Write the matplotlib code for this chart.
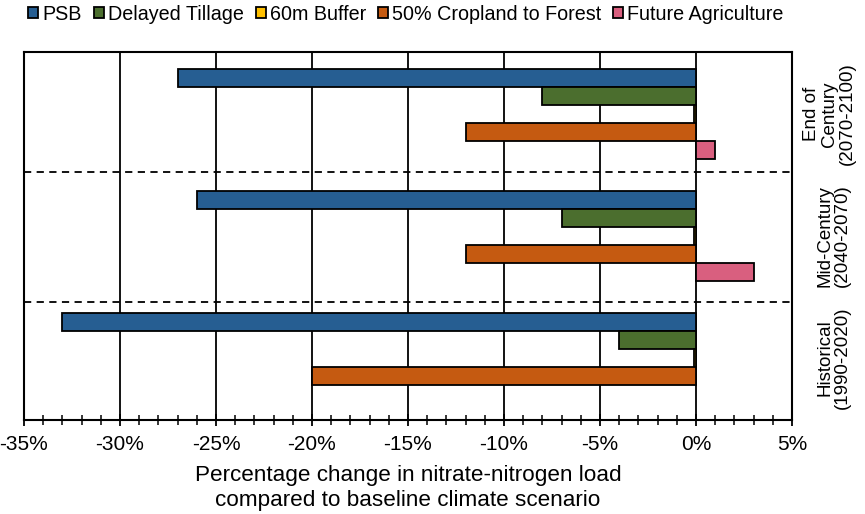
import numpy as np
import matplotlib.pyplot as plt
from matplotlib.ticker import MultipleLocator, FuncFormatter
from matplotlib.transforms import blended_transform_factory

plt.rcParams['font.family'] = ['Liberation Sans', 'DejaVu Sans']
plt.rcParams['axes.unicode_minus'] = False

# Data (percent change vs baseline climate scenario)
periods = ["End of\nCentury\n(2070-2100)", "Mid-Century\n(2040-2070)", "Historical\n(1990-2020)"]
scenarios = ["PSB", "Delayed Tillage", "60m Buffer", "50% Cropland to Forest", "Future Agriculture"]
psb = [-27, -26, -33]
delayed_tillage = [-8, -7, -4]
buffer_60m = [-0.1, -0.1, -0.1]
cropland_forest = [-12, -12, -20]
future_ag = [1, 3, np.nan]
colors = ["#265e92", "#4b6e2e", "#ffc000", "#c55a11", "#d95f7f"]

series = [psb, delayed_tillage, buffer_60m, cropland_forest, future_ag]

fig = plt.figure(figsize=(8.65, 5.14), dpi=100)
ax = fig.add_axes([24 / 865, 94 / 514, 768 / 865, 368 / 514])

group_gap = 6.78
first = 1.44
for j, (name, vals, col) in enumerate(zip(scenarios, series, colors)):
    ys = [first + i * group_gap + j for i in range(len(periods))]
    ax.barh(ys, vals, height=1.0, color=col, edgecolor='black', linewidth=1.3,
            label=name, zorder=3)

# group dividers
for yd in (6.67, 13.89):
    ax.axhline(yd, color='black', linestyle=(0, (4, 3)), linewidth=1.3, zorder=2)

ax.set_ylim(20.44, 0)
ax.set_xlim(-35, 5)
ax.set_yticks([])

ax.xaxis.set_major_locator(MultipleLocator(5))
ax.xaxis.set_minor_locator(MultipleLocator(1))
ax.xaxis.set_major_formatter(FuncFormatter(lambda v, p: f"{v:.0f}%"))
ax.tick_params(axis='x', which='major', direction='inout', length=9, width=1.3,
               labelsize=15, pad=6)
ax.tick_params(axis='x', which='minor', direction='inout', length=7, width=1.1)
ax.grid(axis='x', which='major', color='black', linewidth=1.3, zorder=1)
ax.set_axisbelow(True)
for sp in ax.spines.values():
    sp.set_linewidth(1.5)

ax.set_xlabel("Percentage change in nitrate-nitrogen load\ncompared to baseline climate scenario",
              fontsize=16.2, labelpad=8, linespacing=1.3)

trans = blended_transform_factory(ax.transAxes, ax.transData)
label_x = [1.049, 1.054, 1.054]
for i, (lab, lx) in enumerate(zip(periods, label_x)):
    ax.text(lx, first + i * group_gap + 2, lab, transform=trans, rotation=90,
            ha='center', va='center', fontsize=13.5, linespacing=1.05)

fig.legend(loc='center', bbox_to_anchor=(406 / 865, 1 - 14 / 514), ncol=5,
           frameon=False, fontsize=14.2, handlelength=0.5, handleheight=0.5,
           handletextpad=0.2, columnspacing=0.62, borderaxespad=0)

fig.savefig("out.png", dpi=100)
